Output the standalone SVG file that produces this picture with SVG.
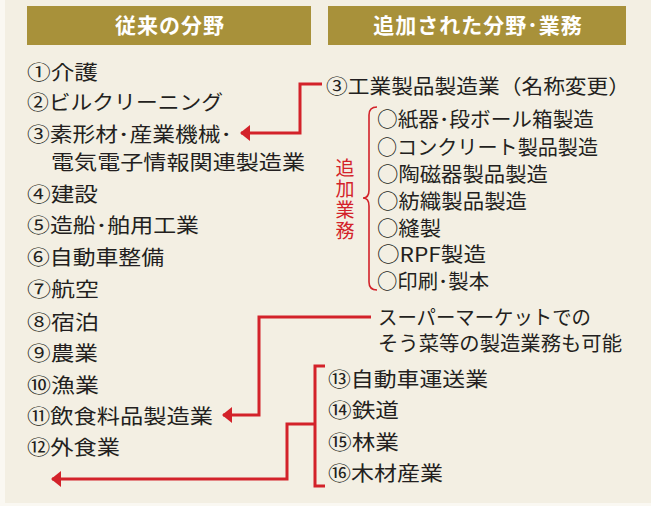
<svg xmlns="http://www.w3.org/2000/svg" width="651" height="506" viewBox="0 0 651 506">
<defs>
<style>
.hd{fill:#a8913a}
.ht{fill:#fff;font-family:"Noto Sans CJK JP","Noto Sans CJK SC",sans-serif;font-size:21px;font-weight:bold;text-anchor:middle;letter-spacing:1px}
.t{fill:#231f20;font-family:"Noto Sans CJK JP","Noto Sans CJK SC",sans-serif;font-size:20px}
.rt{fill:#d3222a;font-family:"Noto Sans CJK JP","Noto Sans CJK SC",sans-serif;font-size:19px;writing-mode:vertical-rl;letter-spacing:2px}
.ln{fill:none;stroke:#d3222a;stroke-width:3}
.br{fill:none;stroke:#d3222a;stroke-width:1.6}
</style>
<marker id="ah" viewBox="0 0 10 16" refX="9" refY="8" markerWidth="10" markerHeight="16" markerUnits="userSpaceOnUse" orient="auto">
<path d="M0,0 L10,8 L0,16 Z" fill="#d3222a"/>
</marker>
</defs>
<rect x="0" y="0" width="651" height="506" fill="#faf8f2"/>
<rect x="5" y="0" width="646" height="503" fill="#f3efe3"/>

<g id="header-left"><rect class="hd" x="27" y="6" width="284" height="39"/><text class="ht" x="170" y="33">従来の分野</text></g>
<g id="header-right"><rect class="hd" x="328" y="6" width="298" height="39"/><text class="ht" x="478" y="33">追加された分野･業務</text></g>

<g id="left-list">
<text class="t" x="27" y="80" textLength="71" lengthAdjust="spacingAndGlyphs">①介護</text>
<text class="t" x="27" y="109.5" textLength="196" lengthAdjust="spacingAndGlyphs">②ビルクリーニング</text>
<text class="t" x="27" y="141.5" textLength="205" lengthAdjust="spacingAndGlyphs">③素形材･産業機械･</text>
<text class="t" x="51" y="169.5" textLength="254" lengthAdjust="spacingAndGlyphs">電気電子情報関連製造業</text>
<text class="t" x="27" y="201.5" textLength="71" lengthAdjust="spacingAndGlyphs">④建設</text>
<text class="t" x="27" y="233" textLength="172" lengthAdjust="spacingAndGlyphs">⑤造船･舶用工業</text>
<text class="t" x="27" y="264.5" textLength="137" lengthAdjust="spacingAndGlyphs">⑥自動車整備</text>
<text class="t" x="27" y="296.5" textLength="72" lengthAdjust="spacingAndGlyphs">⑦航空</text>
<text class="t" x="27" y="329.5" textLength="72" lengthAdjust="spacingAndGlyphs">⑧宿泊</text>
<text class="t" x="27" y="360.5" textLength="71" lengthAdjust="spacingAndGlyphs">⑨農業</text>
<text class="t" x="27" y="392.5" textLength="72" lengthAdjust="spacingAndGlyphs">⑩漁業</text>
<text class="t" x="27" y="423.5" textLength="186" lengthAdjust="spacingAndGlyphs">⑪飲食料品製造業</text>
<text class="t" x="27" y="454.5" textLength="93" lengthAdjust="spacingAndGlyphs">⑫外食業</text>
</g>

<g id="industrial">
<text class="t" x="326" y="93.5" textLength="304" lengthAdjust="spacingAndGlyphs">③工業製品製造業（名称変更）</text>
</g>
<g id="added-tasks">
<text class="t" x="377" y="126.5" textLength="217" lengthAdjust="spacingAndGlyphs">○紙器･段ボール箱製造</text>
<text class="t" x="377" y="154.5" textLength="221" lengthAdjust="spacingAndGlyphs">○コンクリート製品製造</text>
<text class="t" x="377" y="181.5" textLength="171" lengthAdjust="spacingAndGlyphs">○陶磁器製品製造</text>
<text class="t" x="377" y="208.5" textLength="150" lengthAdjust="spacingAndGlyphs">○紡織製品製造</text>
<text class="t" x="377" y="235.5" textLength="64" lengthAdjust="spacingAndGlyphs">○縫製</text>
<text class="t" x="377" y="261.5" textLength="109" lengthAdjust="spacingAndGlyphs">○RPF製造</text>
<text class="t" x="377" y="288.5" textLength="112" lengthAdjust="spacingAndGlyphs">○印刷･製本</text>
<text class="rt" x="345" y="158">追加業務</text>
<path class="br" d="M377,107 Q369,107 369,115 V190 Q369,198 363,198 Q369,198 369,206 V282 Q369,290 377,290"/>
</g>

<g id="supermarket-note">
<text class="t" x="378" y="325" textLength="213" lengthAdjust="spacingAndGlyphs">スーパーマーケットでの</text>
<text class="t" x="378" y="351" textLength="244" lengthAdjust="spacingAndGlyphs">そう菜等の製造業務も可能</text>
</g>

<g id="new-fields">
<text class="t" x="328" y="386.5" textLength="160" lengthAdjust="spacingAndGlyphs">⑬自動車運送業</text>
<text class="t" x="328" y="418" textLength="71" lengthAdjust="spacingAndGlyphs">⑭鉄道</text>
<text class="t" x="328" y="449.5" textLength="71" lengthAdjust="spacingAndGlyphs">⑮林業</text>
<text class="t" x="328" y="480.5" textLength="115" lengthAdjust="spacingAndGlyphs">⑯木材産業</text>
</g>

<g id="connectors">
<path class="ln" d="M322,84 H300 V133 H241" marker-end="url(#ah)"/>
<path class="ln" d="M371,317 H259 V415 H223" marker-end="url(#ah)"/>
<path class="ln" d="M325,366 H315 V486 H325"/>
<path class="ln" d="M315,424 H287 V479 H52" marker-end="url(#ah)"/>
</g>
</svg>
